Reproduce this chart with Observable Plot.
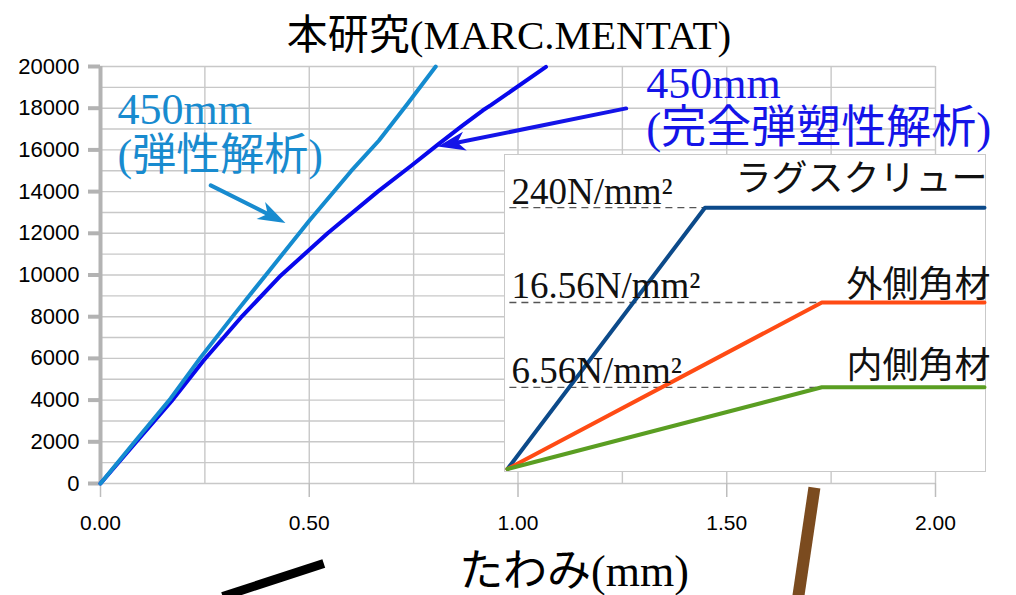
<!DOCTYPE html>
<html>
<head>
<meta charset="utf-8">
<script src="https://cdn.jsdelivr.net/npm/d3@7"></script>
<script src="https://cdn.jsdelivr.net/npm/@observablehq/plot@0.6"></script>
<style>
  body { margin: 0; background: #fff; }
  #chart { position: relative; width: 1016px; height: 595px; overflow: hidden; background: #fff; }
  #inset { position: absolute; left: 504px; top: 154px; width: 482px; height: 318px;
           box-sizing: border-box; border: 1.5px solid #c9c9c9; background: #fff; }
</style>
</head>
<body>
<div id="chart"><div id="inset"></div></div>
<script>
// ---- Load–deflection results, span 450 mm (deflection in mm, load in N) ----
const elasticX = [0, 0.084, 0.168, 0.24, 0.32, 0.40, 0.50, 0.60, 0.667, 0.735, 0.803];
const elasticY = [0, 2050, 4080, 6050, 8100, 10100, 12600, 14980, 16450, 18200, 20000];
const plasticX = [0, 0.085, 0.17, 0.247, 0.336, 0.432, 0.544, 0.664, 0.745, 0.808, 0.866, 0.916, 0.935, 1.067];
const plasticY = [0, 1980, 3950, 5900, 7950, 9980, 12000, 14000, 15250, 16250, 17150, 17900, 18150, 19980];

const xTicks = [0, 0.5, 1, 1.5, 2];
const yTicks = d3.range(0, 20001, 2000);
const xGrid = d3.range(0, 2.001, 0.25);
const yGrid = d3.range(0, 20001, 1000);

// callout labels and arrows
const noteText = ["450mm", "(弾性解析)", "450mm", "(完全弾塑性解析)"];
const noteX = [0.041, 0.041, 1.307, 1.307];
const noteY = [17266, 15012, 18513, 16307];
const noteSeries = ["elastic", "elastic", "plastic", "plastic"];
const calloutSeries = ["elastic", "plastic"];
const calloutTailX = [0.264, 1.259];
const calloutTailY = [14300, 17990];
const calloutTipX = [0.443, 0.808];
const calloutTipY = [12500, 16160];

// stray pen strokes below the axis
const strokeBlackX = [0.2926, 0.5348];
const strokeBlackY = [-5420, -3837];
const strokeBrownX = [1.710, 1.670];
const strokeBrownY = [-192, -5612];

// ---- Material models (bilinear, perfectly plastic) ----
const grades = ["ラグスクリュー", "外側角材", "内側角材"];
const yieldStress = [240, 16.56, 6.56];           // N/mm²
const yieldStrain = [0.414, 0.659, 0.659];        // schematic strain
const stressLabel = ["240N/mm²", "16.56N/mm²", "6.56N/mm²"];
const stressLevel = [1, 0.6372, 0.3127];          // schematic height of each yield stress

// ---- layout ----
const W = 1016, H = 595;
const mL = 100, mR = 81, mT = 66, mB = 112;
const xDomain = [0, 2], yDomain = [0, 20000];
const kx = (W - mL - mR) / (xDomain[1] - xDomain[0]);
const ky = (H - mT - mB) / (yDomain[1] - yDomain[0]);

const seriesColor = {elastic: "#148bcf", plastic: "#0808ec"};
const noteColor = {elastic: "#188bcf", plastic: "#1414e8"};
const gradeColor = {"ラグスクリュー": "#0c4a8a", "外側角材": "#ff4b14", "内側角材": "#5a9e22"};

const serif = "'Liberation Serif', 'Times New Roman', 'Noto Sans CJK JP', serif";
const sans = "'Liberation Sans', Arial, sans-serif";

const elastic = elasticX.map((x, i) => ({x, y: elasticY[i]}));
const plastic = plasticX.map((x, i) => ({x, y: plasticY[i]}));
const notes = noteText.map((t, i) => ({t, x: noteX[i], y: noteY[i], s: noteSeries[i]}));
const callouts = calloutSeries.map((s, i) => {
  const x1 = calloutTailX[i], y1 = calloutTailY[i], x2 = calloutTipX[i], y2 = calloutTipY[i];
  return {s, x1, y1, x2, y2, angle: Math.atan2((x2 - x1) * kx, (y2 - y1) * ky) * 180 / Math.PI};
});
const strayBlack = strokeBlackX.map((x, i) => ({x, y: strokeBlackY[i]}));
const strayBrown = strokeBrownX.map((x, i) => ({x, y: strokeBrownY[i]}));

// filled "stealth" arrowhead with its tip at the anchor point, pointing up before rotation
const stealth = {
  draw(context, size) {
    const s = Math.sqrt(size / Math.PI);
    context.moveTo(0, 0);
    context.lineTo(-s, 2.9 * s);
    context.lineTo(0, 2.1 * s);
    context.lineTo(s, 2.9 * s);
    context.closePath();
  }
};

const main = Plot.plot({
  width: W, height: H,
  marginLeft: mL, marginRight: mR, marginTop: mT, marginBottom: mB,
  style: {fontFamily: sans, background: "transparent", overflow: "visible"},
  x: {domain: xDomain},
  y: {domain: yDomain},
  color: {type: "identity"},
  marks: [
    Plot.gridY(yGrid, {stroke: "#c8c8c8", strokeOpacity: 1, strokeWidth: 1.4}),
    Plot.gridX(xGrid, {stroke: "#c8c8c8", strokeOpacity: 1, strokeWidth: 1.4}),
    Plot.axisX(xTicks, {anchor: "bottom", tickSize: 14, tickPadding: 18, stroke: "#bdbdbd", strokeWidth: 1.5,
      fill: "#000", fontSize: 21, tickFormat: d3.format(".2f"), label: null}),
    Plot.ruleX([0], {stroke: "#b3b3b3", strokeWidth: 4}),
    Plot.axisY(yTicks, {anchor: "left", tickSize: 12, tickPadding: 9, stroke: "#b3b3b3", strokeWidth: 4,
      fill: "#000", fontSize: 22, tickFormat: d => String(d), label: null}),
    Plot.line(plastic, {x: "x", y: "y", stroke: seriesColor.plastic, strokeWidth: 4}),
    Plot.line(elastic, {x: "x", y: "y", stroke: seriesColor.elastic, strokeWidth: 4}),
    Plot.arrow(callouts, {x1: "x1", y1: "y1", x2: "x2", y2: "y2", stroke: d => noteColor[d.s],
      strokeWidth: 4, headLength: 0, insetEnd: 14}),
    Plot.dot(callouts, {x: "x2", y: "y2", symbol: stealth, r: 9.5, fill: d => noteColor[d.s],
      stroke: "none", rotate: "angle"}),
    Plot.text(notes.filter(d => !d.t.startsWith("(")), {x: "x", y: "y", text: "t", fill: d => noteColor[d.s],
      textAnchor: "start", lineAnchor: "bottom", fontSize: 44, fontFamily: serif}),
    Plot.text(notes.filter(d => d.t === "(弾性解析)"), {x: "x", y: "y", text: "t", fill: d => noteColor[d.s],
      textAnchor: "start", lineAnchor: "bottom", fontSize: 44, fontFamily: serif}),
    Plot.text(notes.filter(d => d.t === "(完全弾塑性解析)"), {x: "x", y: "y", text: "t", fill: d => noteColor[d.s],
      textAnchor: "start", lineAnchor: "bottom", fontSize: 45, fontFamily: serif}),
    Plot.text(["本研究(MARC.MENTAT)"], {frameAnchor: "top", dx: -9, dy: -18, lineAnchor: "bottom",
      fontSize: 41, fontFamily: serif, fill: "#000"}),
    Plot.text(["たわみ(mm)"], {frameAnchor: "bottom", dx: 56, dy: 102, lineAnchor: "bottom",
      fontSize: 44, fontFamily: serif, fill: "#000"}),
    Plot.line(strayBlack, {x: "x", y: "y", stroke: "#000", strokeWidth: 9, strokeLinecap: "butt"}),
    Plot.line(strayBrown, {x: "x", y: "y", stroke: "#7b4b1f", strokeWidth: 12, strokeLinecap: "butt"})
  ]
});
document.getElementById("chart").prepend(main);

// ---- inset: schematic stress–strain models ----
// stresses are placed on a schematic (non-proportional) height through a piecewise transform
const schematic = d3.scaleLinear([0, ...yieldStress.slice().reverse()], [0, ...stressLevel.slice().reverse()]);
const modelRows = grades.flatMap((g, i) => [
  {g, x: 0, y: 0},
  {g, x: yieldStrain[i], y: yieldStress[i]},
  {g, x: 1, y: yieldStress[i]}
]);
const yieldRows = grades.map((g, i) => ({g, x: yieldStrain[i], y: yieldStress[i], label: stressLabel[i]}));

const inset = Plot.plot({
  width: 479, height: 315, margin: 0,
  style: {background: "transparent", overflow: "visible", fontFamily: serif},
  x: {domain: [0, 1], range: [2, 479], axis: null},
  y: {transform: schematic, domain: [0, 1], range: [313.5, 52.2], axis: null},
  color: {type: "identity"},
  marks: [
    Plot.ruleY(yieldRows, {y: "y", x1: 0.005, x2: "x", stroke: "#555", strokeWidth: 1.3, strokeDasharray: "7,5"}),
    Plot.line(modelRows, {x: "x", y: "y", z: "g", stroke: d => gradeColor[d.g], strokeWidth: 4}),
    Plot.text(yieldRows, {x: 0, y: "y", text: "label", textAnchor: "start", lineAnchor: "bottom",
      dx: 4, dy: -4, fontSize: 37, fill: "#111"}),
    Plot.text(yieldRows.filter(d => d.g === "ラグスクリュー"), {x: 1, y: "y", text: "g", textAnchor: "end",
      lineAnchor: "bottom", dx: 3, dy: -17, fontSize: 36, fill: "#111"}),
    Plot.text(yieldRows.filter(d => d.g === "外側角材"), {x: 1, y: "y", text: "g", textAnchor: "end",
      lineAnchor: "bottom", dx: 6, dy: -5, fontSize: 36, fill: "#111"}),
    Plot.text(yieldRows.filter(d => d.g === "内側角材"), {x: 1, y: "y", text: "g", textAnchor: "end",
      lineAnchor: "bottom", dx: 6, dy: -9, fontSize: 36, fill: "#111"})
  ]
});
document.getElementById("inset").append(inset);
</script>
</body>
</html>
